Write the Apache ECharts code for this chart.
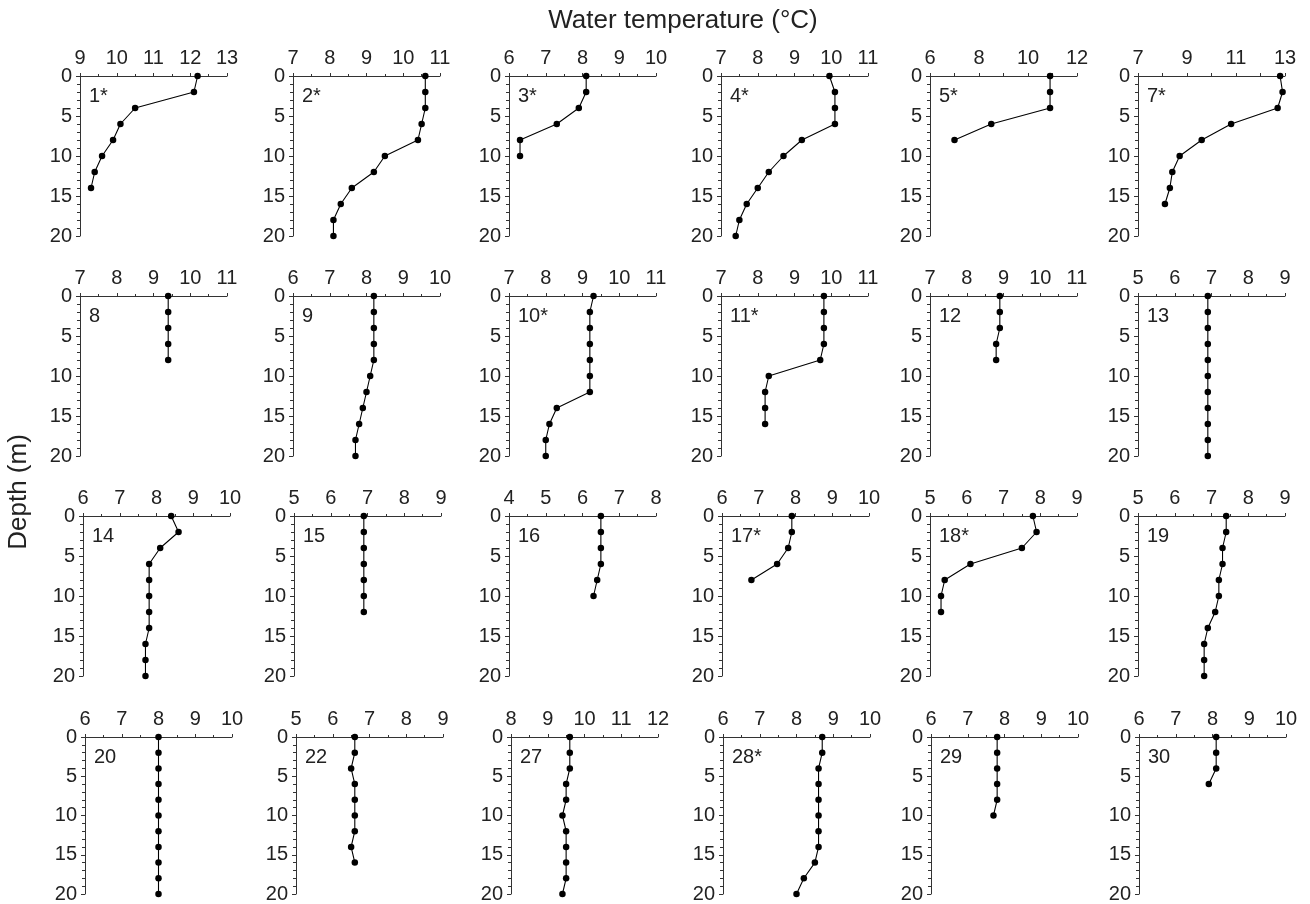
<!DOCTYPE html>
<html>
<head>
<meta charset="utf-8">
<title>Water temperature profiles</title>
<script src="https://cdn.jsdelivr.net/npm/echarts@6/dist/echarts.min.js"></script>
<style>
html, body { margin: 0; padding: 0; background: #fff; }
#chart { width: 1310px; height: 904px; }
</style>
</head>
<body>
<div id="chart"></div>
<script>
// depth of each sample (m), shared by every station
const depths = [0, 2, 4, 6, 8, 10, 12, 14, 16, 18, 20];

// station labels, row by row
const stations = ["1*", "2*", "3*", "4*", "5*", "7*",
                  "8", "9", "10*", "11*", "12", "13",
                  "14", "15", "16", "17*", "18*", "19",
                  "20", "22", "27", "28*", "29", "30"];

// water temperature (°C) per depth
const t1  = [12.2, 12.1, 10.5, 10.1, 9.9, 9.6, 9.4, 9.3];
const t2  = [10.6, 10.6, 10.6, 10.5, 10.4, 9.5, 9.2, 8.6, 8.3, 8.1, 8.1];
const t3  = [8.1, 8.1, 7.9, 7.3, 6.3, 6.3];
const t4  = [9.95, 10.1, 10.1, 10.1, 9.2, 8.7, 8.3, 8.0, 7.7, 7.5, 7.4];
const t5  = [10.9, 10.9, 10.9, 8.5, 7.0];
const t7  = [12.8, 12.9, 12.7, 10.8, 9.6, 8.7, 8.4, 8.3, 8.1];
const t8  = [9.4, 9.4, 9.4, 9.4, 9.4];
const t9  = [8.2, 8.2, 8.2, 8.2, 8.2, 8.1, 8.0, 7.9, 7.8, 7.7, 7.7];
const t10 = [9.3, 9.2, 9.2, 9.2, 9.2, 9.2, 9.2, 8.3, 8.1, 8.0, 8.0];
const t11 = [9.8, 9.8, 9.8, 9.8, 9.7, 8.3, 8.2, 8.2, 8.2];
const t12 = [8.9, 8.9, 8.9, 8.8, 8.8];
const t13 = [6.9, 6.9, 6.9, 6.9, 6.9, 6.9, 6.9, 6.9, 6.9, 6.9, 6.9];
const t14 = [8.4, 8.6, 8.1, 7.8, 7.8, 7.8, 7.8, 7.8, 7.7, 7.7, 7.7];
const t15 = [6.9, 6.9, 6.9, 6.9, 6.9, 6.9, 6.9];
const t16 = [6.5, 6.5, 6.5, 6.5, 6.4, 6.3];
const t17 = [7.9, 7.9, 7.8, 7.5, 6.8];
const t18 = [7.8, 7.9, 7.5, 6.1, 5.4, 5.3, 5.3];
const t19 = [7.4, 7.4, 7.3, 7.3, 7.2, 7.2, 7.1, 6.9, 6.8, 6.8, 6.8];
const t20 = [8.0, 8.0, 8.0, 8.0, 8.0, 8.0, 8.0, 8.0, 8.0, 8.0, 8.0];
const t22 = [6.6, 6.6, 6.5, 6.6, 6.6, 6.6, 6.6, 6.5, 6.6];
const t27 = [9.6, 9.6, 9.6, 9.5, 9.5, 9.4, 9.5, 9.5, 9.5, 9.5, 9.4];
const t28 = [8.7, 8.7, 8.6, 8.6, 8.6, 8.6, 8.6, 8.6, 8.5, 8.2, 8.0];
const t29 = [7.8, 7.8, 7.8, 7.8, 7.8, 7.7];
const t30 = [8.1, 8.1, 8.1, 7.9];

const profiles = [t1, t2, t3, t4, t5, t7, t8, t9, t10, t11, t12, t13,
                  t14, t15, t16, t17, t18, t19, t20, t22, t27, t28, t29, t30];

// temperature axis range and label step of each panel
const xMin  = [9, 7, 6, 7, 6, 7,  7, 6, 7, 7, 7, 5,  6, 5, 4, 6, 5, 5,  6, 5, 8, 6, 6, 6];
const xMax  = [13, 11, 10, 11, 12, 13,  11, 10, 11, 11, 11, 9,  10, 9, 8, 10, 9, 9,  10, 9, 12, 10, 10, 10];
const xStep = [1, 1, 1, 1, 2, 2,  1, 1, 1, 1, 1, 1,  1, 1, 1, 1, 1, 1,  1, 1, 1, 1, 1, 1];

const FONT = "Liberation Sans, Arial, sans-serif";
// panel placement (left edge of each panel per row)
const colLeft = [
  [80, 293, 509, 721, 930, 1138],
  [80, 293, 509, 721, 930, 1138],
  [83, 294, 509, 722, 930, 1138],
  [85, 296, 511, 723, 931, 1139]
];
const rowTop = [76, 296, 516, 737];
const PW = 147, PH = 160;

const grids = [], xAxes = [], yAxes = [], series = [], titles = [];

stations.forEach((name, i) => {
  const r = Math.floor(i / 6), c = i % 6;
  const left = colLeft[r][c], top = rowTop[r];
  grids.push({ left, top, width: PW, height: PH, containLabel: false });

  const step = xStep[i];
  const lo = xMin[i];
  xAxes.push({
    type: "value", gridIndex: i, position: "top",
    min: xMin[i], max: xMax[i], interval: 1,
    axisLine: { show: true, onZero: false, lineStyle: { color: "#333", width: 1 } },
    axisTick: { show: true, inside: false, length: 3, lineStyle: { color: "#333" } },
    minorTick: { show: step === 1, splitNumber: 2, length: 2, lineStyle: { color: "#333" } },
    splitLine: { show: false },
    axisLabel: {
      color: "#222", fontSize: 20, fontFamily: FONT, margin: 8,
      formatter: (v) => ((Math.round(v - lo) % step === 0) ? String(v) : "")
    }
  });

  yAxes.push({
    type: "value", gridIndex: i, inverse: true,
    min: 0, max: 20, interval: 5,
    axisLine: { show: true, onZero: false, lineStyle: { color: "#333", width: 1 } },
    axisTick: { show: true, inside: false, length: 4, lineStyle: { color: "#333" } },
    minorTick: { show: true, splitNumber: 5, length: 3, lineStyle: { color: "#333" } },
    splitLine: { show: false },
    axisLabel: { color: "#222", fontSize: 20, fontFamily: FONT, margin: 8 }
  });

  series.push({
    type: "line", xAxisIndex: i, yAxisIndex: i,
    data: profiles[i].map((t, k) => [t, depths[k]]),
    symbol: "circle", symbolSize: 6.5, showSymbol: true,
    itemStyle: { color: "#000" },
    lineStyle: { color: "#000", width: 1.1 },
    clip: false, silent: true
  });

  titles.push({
    text: name, left: left + 9, top: top + 10,
    textStyle: { fontSize: 20, fontWeight: "normal", color: "#222", fontFamily: FONT },
    padding: 0
  });
});

const chart = echarts.init(document.getElementById("chart"), null, { renderer: "canvas" });
chart.setOption({
  animation: false,
  backgroundColor: "#fff",
  title: titles,
  grid: grids,
  xAxis: xAxes,
  yAxis: yAxes,
  series: series,
  graphic: [
    {
      type: "text", x: 683, y: 8,
      style: { text: "Water temperature (°C)", fontSize: 26, fontFamily: FONT, fill: "#222",
               align: "center", verticalAlign: "top" }
    },
    {
      type: "text", x: 6, y: 492, rotation: Math.PI / 2,
      style: { text: "Depth (m)", fontSize: 26, fontFamily: FONT, fill: "#222",
               align: "center", verticalAlign: "top" }
    }
  ]
});
</script>
</body>
</html>
